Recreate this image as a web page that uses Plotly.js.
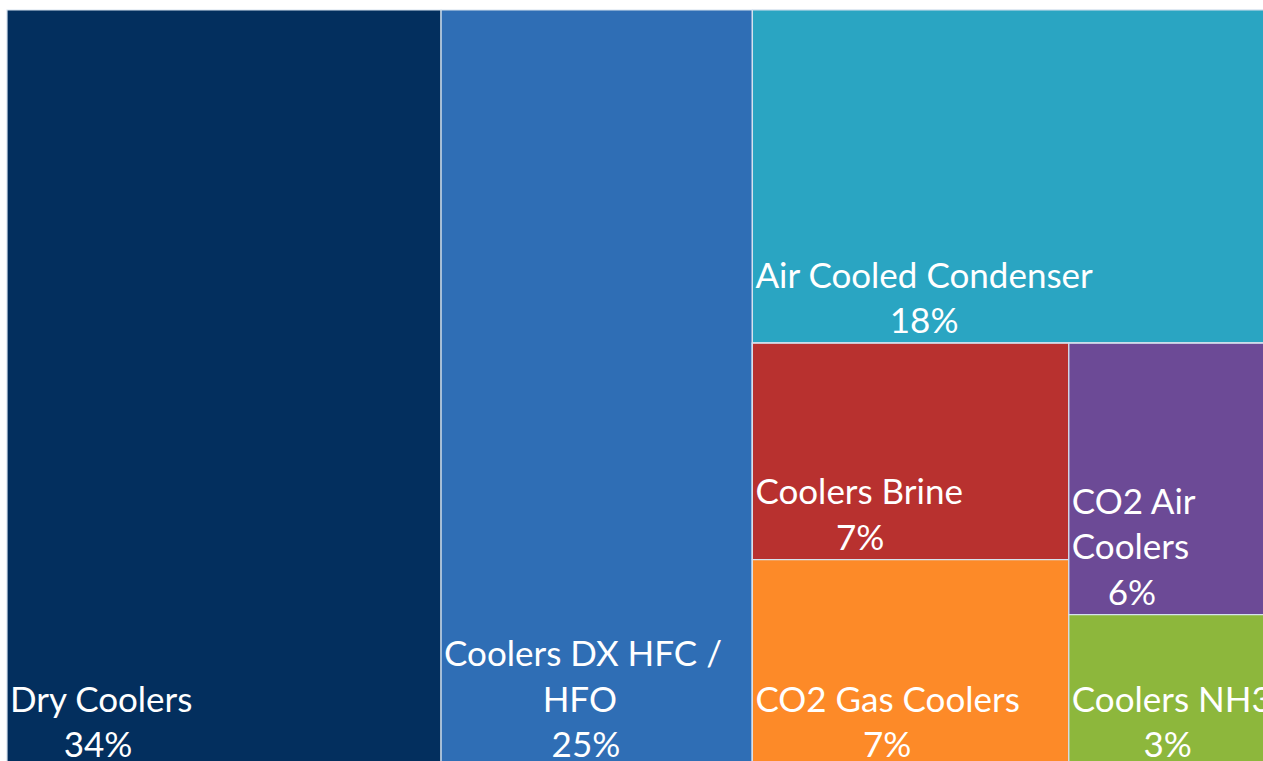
<!DOCTYPE html>
<html>
<head>
<meta charset="utf-8">
<script src="https://cdn.plot.ly/plotly-3.0.1.min.js"></script>
<style>
html,body{margin:0;padding:0;overflow:hidden;background:#fff;}
#chart{width:1270px;height:767px;}
</style>
</head>
<body>
<div id="chart"></div>
<script>
// Data
const ids     = ["Dry", "DX", "R", "Air", "L", "LC", "RC", "Brine", "Gas", "CO2Air", "NH3"];
const parents = ["", "", "", "R", "R", "L", "L", "LC", "LC", "RC", "RC"];
const labels  = ["Dry Coolers", "Coolers DX HFC /<br>HFO", "", "Air Cooled Condenser", "", "", "",
                 "Coolers Brine", "CO2 Gas Coolers", "CO2 Air<br>Coolers", "Coolers NH3"];
const values  = [34.3, 24.6, 0, 18.0, 0, 0, 0, 7.15, 6.85, 5.7, 3.2];
const pctText = ["34%", "25%", "", "18%", "", "", "", "7%", "7%", "6%", "3%"];
const colors  = ["#032F5E", "#2F6EB5", "#2AA5C2", "#2AA5C2", "#ffffff", "#ffffff", "#ffffff",
                 "#B8312F", "#FD8A28", "#6C4A96", "#8DB73C"];

const FONT = "Lato";
const FSIZE = 35;

// center lines relative to each other using non-breaking spaces
const ctx = document.createElement("canvas").getContext("2d");
ctx.font = FSIZE + "px " + FONT;
const nbspW = ctx.measureText("\u00a0").width || FSIZE * 0.2;
function centered(lines) {
  const w = lines.map(l => ctx.measureText(l).width);
  const maxW = Math.max(...w);
  return lines.map((l, i) => "\u00a0".repeat(Math.max(0, Math.round((maxW - w[i]) / 2 / nbspW))) + l).join("<br>");
}
const text = labels.map((lab, i) => lab === "" ? "" : centered(lab.split("<br>").concat([pctText[i]])));

Plotly.newPlot("chart", [{
  type: "treemap",
  ids: ids,
  parents: parents,
  labels: ids,
  values: values,
  text: text,
  textinfo: "text",
  textposition: "bottom left",
  sort: false,
  branchvalues: "remainder",
  tiling: {packing: "slice-dice", pad: 0},
  pathbar: {visible: false},
  marker: {colors: colors, pad: {t: 0, l: 0, r: 0, b: 0},
           line: {color: "#d6e2ee", width: 1.2}},
  textfont: {family: FONT, size: FSIZE, color: "#ffffff"},
  hoverinfo: "skip"
}], {
  width: 1270,
  height: 767,
  margin: {l: 7, r: 0, t: 10, b: 0},
  paper_bgcolor: "#ffffff",
  uniformtext: {mode: "show", minsize: FSIZE},
  showlegend: false
}, {displayModeBar: false, staticPlot: true});
</script>
</body>
</html>
